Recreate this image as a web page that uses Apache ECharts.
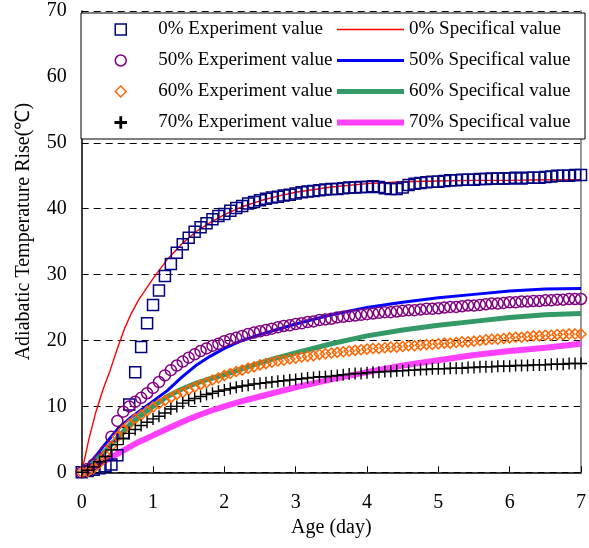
<!DOCTYPE html>
<html>
<head>
<meta charset="utf-8">
<title>Adiabatic temperature rise</title>
<script src="https://cdn.jsdelivr.net/npm/echarts@6/dist/echarts.min.js"></script>
<style>
  html, body { margin: 0; padding: 0; background: #fff; }
  #chart { width: 589px; height: 548px; }
</style>
</head>
<body>
<div id="chart"></div>
<script>
// test ages, hours (one reading every 2 h)
var testHours = [0,2,4,6,8,10,12,14,16,18,20,22,24,26,28,30,32,34,36,38,40,42,44,46,
    48,50,52,54,56,58,60,62,64,66,68,70,72,74,76,78,80,82,84,86,88,90,92,94,
    96,98,100,102,104,106,108,110,112,114,116,118,120,122,124,126,128,130,132,134,136,138,140,142,
    144,146,148,150,152,154,156,158,160,162,164,166,168];

// experiment values, one row per day
var exp0 = [0, 0.2, 0.4, 0.6, 0.9, 1.2, 2.6, 6.0, 10.3, 15.2, 19.0, 22.6,
    25.4, 27.6, 29.8, 31.6, 33.3, 34.6, 35.6, 36.5, 37.2, 37.8, 38.4, 38.9,
    39.2, 39.7, 40.1, 40.4, 40.8, 41.0, 41.3, 41.5, 41.7, 41.8, 42.0, 42.1,
    42.3, 42.5, 42.6, 42.7, 42.8, 42.9, 43.0, 43.0, 43.1, 43.2, 43.2, 43.3,
    43.3, 43.4, 43.3, 43.1, 43.0, 43.0, 43.2, 43.6, 43.8, 43.9, 44.0, 44.1,
    44.1, 44.2, 44.3, 44.3, 44.4, 44.4, 44.4, 44.5, 44.5, 44.6, 44.6, 44.6,
    44.6, 44.7, 44.6, 44.7, 44.7, 44.7, 44.8, 44.9, 45.0, 45.0, 45.0, 45.1,
    45.1];
var exp50 = [0, 0.5, 1.2, 2.0, 3.2, 5.4, 7.8, 9.2, 10.0, 10.7, 11.3, 12.0,
    12.8, 13.7, 14.7, 15.5, 16.2, 16.8, 17.4, 17.9, 18.4, 18.8, 19.2, 19.5,
    19.9, 20.2, 20.4, 20.7, 21.0, 21.2, 21.4, 21.6, 21.8, 22.0, 22.2, 22.3,
    22.5, 22.6, 22.8, 22.9, 23.1, 23.2, 23.3, 23.5, 23.6, 23.7, 23.8, 23.9,
    24.0, 24.1, 24.2, 24.3, 24.3, 24.4, 24.5, 24.6, 24.6, 24.7, 24.8, 24.8,
    24.9, 25.0, 25.1, 25.1, 25.2, 25.3, 25.3, 25.4, 25.5, 25.6, 25.6, 25.7,
    25.8, 25.8, 25.9, 25.9, 26.0, 26.0, 26.1, 26.1, 26.2, 26.2, 26.3, 26.3,
    26.3];
var exp60 = [0, 0.1, 0.6, 1.4, 2.6, 4.0, 5.4, 6.4, 7.3, 8.1, 8.7, 9.3,
    9.9, 10.4, 10.9, 11.3, 11.8, 12.1, 12.5, 12.9, 13.3, 13.6, 14.0, 14.3,
    14.7, 15.0, 15.3, 15.5, 15.8, 16.0, 16.3, 16.5, 16.7, 16.9, 17.0, 17.2,
    17.3, 17.5, 17.6, 17.7, 17.9, 18.0, 18.1, 18.2, 18.3, 18.4, 18.5, 18.6,
    18.7, 18.8, 18.8, 18.9, 19.0, 19.0, 19.1, 19.2, 19.2, 19.3, 19.4, 19.4,
    19.5, 19.6, 19.6, 19.7, 19.8, 19.8, 19.9, 20.0, 20.1, 20.2, 20.2, 20.3,
    20.4, 20.5, 20.5, 20.6, 20.7, 20.7, 20.8, 20.8, 20.9, 20.9, 21.0, 21.0,
    21.0];
var exp70 = [0, 0.3, 0.8, 1.6, 2.4, 3.4, 4.2, 5.1, 5.9, 6.5, 7.1, 7.6,
    8.1, 8.5, 9.0, 9.6, 10.0, 10.5, 10.9, 11.2, 11.5, 11.8, 12.0, 12.3,
    12.5, 12.7, 12.9, 13.1, 13.2, 13.4, 13.5, 13.6, 13.7, 13.8, 13.9, 14.0,
    14.1, 14.2, 14.3, 14.4, 14.5, 14.5, 14.6, 14.7, 14.8, 14.9, 15.0, 15.0,
    15.1, 15.2, 15.2, 15.3, 15.3, 15.4, 15.4, 15.5, 15.5, 15.6, 15.6, 15.7,
    15.7, 15.7, 15.8, 15.8, 15.8, 15.9, 15.9, 16.0, 16.0, 16.0, 16.1, 16.1,
    16.1, 16.2, 16.2, 16.2, 16.3, 16.3, 16.3, 16.4, 16.4, 16.4, 16.5, 16.5,
    16.5];

// model (specifical) values
var modelDays = [0, 0.1, 0.2, 0.3, 0.4, 0.5, 0.6, 0.7, 0.8, 0.9, 1.0, 1.2, 1.4, 1.6,
    1.8, 2.0, 2.25, 2.5, 2.75, 3.0, 3.5, 4.0, 4.5, 5.0, 5.5, 6.0, 6.5, 7.0];
var spec0 = [0, 5.0, 9.2, 12.6, 15.5, 18.8, 21.8, 24.2, 26.2, 27.8, 29.4, 32.3, 34.6, 36.5,
    37.9, 39.1, 40.3, 41.2, 41.9, 42.5, 43.3, 43.8, 44.1, 44.2, 44.3, 44.3, 44.4, 44.4];
var spec50 = [0, 1.2, 2.5, 3.9, 5.2, 6.5, 7.5, 8.4, 9.2, 10.0, 10.8, 12.4, 14.4, 16.2,
    17.6, 18.8, 20.0, 20.9, 21.7, 22.5, 23.9, 25.0, 25.8, 26.5, 27.0, 27.5, 27.8, 27.9];
var spec60 = [0, 0.9, 1.8, 2.9, 4.0, 5.2, 6.4, 7.5, 8.4, 9.2, 10.0, 11.5, 12.6, 13.5,
    14.2, 14.8, 15.7, 16.6, 17.4, 18.1, 19.5, 20.7, 21.6, 22.3, 22.9, 23.5, 23.9, 24.1];
var spec70 = [0, 0.5, 1.0, 1.6, 2.2, 2.8, 3.4, 4.0, 4.6, 5.1, 5.6, 6.6, 7.6, 8.5,
    9.3, 10.0, 10.8, 11.5, 12.2, 12.9, 14.1, 15.2, 16.2, 17.0, 17.8, 18.4, 18.9, 19.5];

var expNames = ['0% Experiment value', '50% Experiment value', '60% Experiment value', '70% Experiment value'];
var specNames = ['0% Specifical value', '50% Specifical value', '60% Specifical value', '70% Specifical value'];
var specColors = ['#ff0000', '#0000ff', '#339966', '#ff40ff'];
var specWidths = [1.4, 3, 5, 6];
var dayTicks = [0, 1, 2, 3, 4, 5, 6, 7];

var serif = '"Liberation Serif", "Times New Roman", serif';
var plus = 'path://M5.3,0H6.7V5.3H12V6.7H6.7V12H5.3V6.7H0V5.3H5.3Z';

function pairs(xs, ys) {
    var out = [];
    for (var i = 0; i < ys.length; i++) out.push([xs[i], ys[i]]);
    return out;
}

var testDays = testHours.map(function (h) { return h / 24; });

function specLine(i, ys) {
    return {
        name: specNames[i],
        type: 'line',
        data: pairs(modelDays, ys),
        symbol: 'none',
        lineStyle: { color: specColors[i], width: specWidths[i] },
        itemStyle: { color: specColors[i] },
        z: 2
    };
}

function expPoints(name, ys, symbol, size, color) {
    var filled = symbol === plus;
    return {
        name: name,
        type: 'scatter',
        data: pairs(testDays, ys),
        symbol: symbol,
        symbolSize: size,
        itemStyle: {
            color: filled ? color : 'transparent',
            borderColor: color,
            borderWidth: filled ? 0 : 1.5,
            opacity: 1
        },
        z: 3
    };
}

// legend entries for the model lines, colour and width spelled out
var specLegend = specNames.map(function (n, i) {
    return { name: n, lineStyle: { color: specColors[i], width: specWidths[i] } };
});

var myChart = echarts.init(document.getElementById('chart'));

var option = {
    animation: false,
    textStyle: { fontFamily: serif },
    grid: { left: 81.7, right: 2.3, top: 11, bottom: 75.7 },
    graphic: [{
        type: 'rect',
        z: 3,
        shape: { x: 81, y: 13, width: 504, height: 126 },
        style: { fill: '#fff', stroke: '#000', lineWidth: 1 }
    }],
    legend: [{
        data: expNames,
        orient: 'vertical',
        left: 114.5,
        top: 20,
        padding: 0,
        itemWidth: 11,
        itemHeight: 11,
        itemGap: 12,
        selectedMode: false,
        z: 5,
        itemStyle: { borderWidth: 1.5 },
        textStyle: { fontFamily: serif, fontSize: 19, color: '#000', lineHeight: 16, padding: [0, 0, 0, 27] }
    }, {
        data: specLegend,
        orient: 'vertical',
        left: 334,
        top: 20,
        padding: 0,
        itemWidth: 67,
        itemHeight: 11,
        itemGap: 12,
        selectedMode: false,
        z: 5,
        itemStyle: { opacity: 0 },
        lineStyle: { width: 'inherit' },
        textStyle: { fontFamily: serif, fontSize: 19, color: '#000', lineHeight: 16 }
    }],
    xAxis: {
        type: 'value',
        min: dayTicks[0],
        max: dayTicks[dayTicks.length - 1],
        interval: 1,
        name: 'Age (day)',
        nameLocation: 'middle',
        nameGap: 45,
        nameTextStyle: { fontFamily: serif, fontSize: 20, color: '#000' },
        axisLine: { show: true, onZero: false, lineStyle: { color: '#000', width: 1.5 } },
        axisTick: { show: true, inside: true, length: 6, lineStyle: { color: '#000' } },
        axisLabel: { fontFamily: serif, fontSize: 20, color: '#000', margin: 20 },
        splitLine: { show: false }
    },
    yAxis: [{
        type: 'value',
        min: 0,
        max: 70,
        interval: 10,
        name: 'Adiabatic Temperature Rise(℃)',
        nameLocation: 'middle',
        nameGap: 48,
        nameTextStyle: { fontFamily: serif, fontSize: 20, color: '#000', padding: [0, 0, 0, 20] },
        axisLine: { show: true, lineStyle: { color: '#000', width: 1.5 } },
        axisTick: { show: false },
        axisLabel: { fontFamily: serif, fontSize: 20, color: '#000', margin: 15 },
        splitLine: { show: true, lineStyle: { color: '#000', type: [7, 5], width: 1 } }
    }, {
        type: 'value',
        min: 0,
        max: 70,
        position: 'right',
        axisLine: { show: true, lineStyle: { color: '#999', width: 2 } },
        axisTick: { show: false },
        axisLabel: { show: false },
        splitLine: { show: false }
    }],
    series: [
        specLine(0, spec0),
        specLine(1, spec50),
        specLine(2, spec60),
        specLine(3, spec70),
        expPoints(expNames[0], exp0, 'rect', 11, '#000080'),
        expPoints(expNames[1], exp50, 'circle', 11, '#800080'),
        expPoints(expNames[2], exp60, 'diamond', 10, '#ff6600'),
        expPoints(expNames[3], exp70, plus, 12, '#000000')
    ]
};

myChart.setOption(option);
</script>
</body>
</html>
